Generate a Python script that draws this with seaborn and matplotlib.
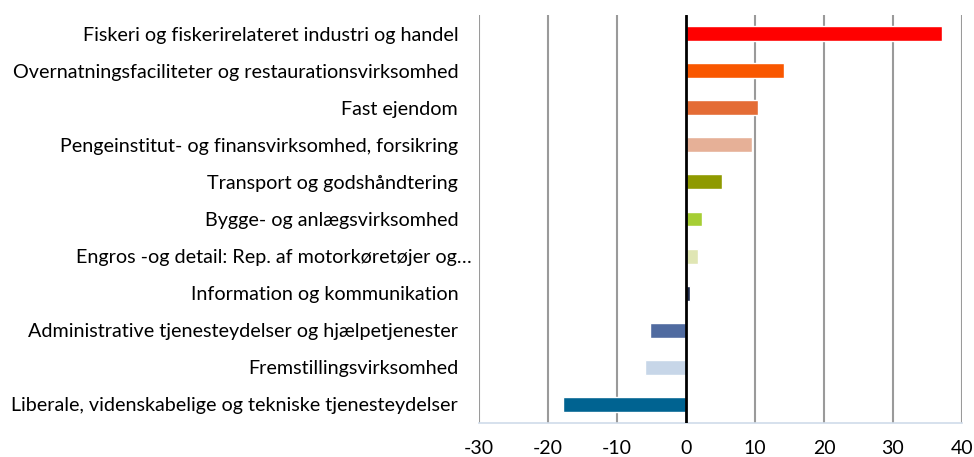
import matplotlib
matplotlib.use("Agg")
import matplotlib.pyplot as plt
import matplotlib.transforms as mtransforms
import seaborn as sns
import pandas as pd

categories = [
    "Fiskeri og fiskerirelateret industri og handel",
    "Overnatningsfaciliteter og restaurationsvirksomhed",
    "Fast ejendom",
    "Pengeinstitut- og finansvirksomhed, forsikring",
    "Transport og godshåndtering",
    "Bygge- og anlægsvirksomhed",
    "Engros -og detail: Rep. af motorkøretøjer og…",
    "Information og kommunikation",
    "Administrative tjenesteydelser og hjælpetjenester",
    "Fremstillingsvirksomhed",
    "Liberale, videnskabelige og tekniske tjenesteydelser",
]
values = [37.1, 14.2, 10.4, 9.6, 5.2, 2.3, 1.7, 0.6, -5.2, -5.9, -17.8]
colors = ["#FF0000", "#F95700", "#E46C35", "#E6B097", "#8F9A00", "#A6CE34",
          "#E0E6B4", "#1F2A4A", "#506BA0", "#C7D6E8", "#006391"]
xticks = [-30, -20, -10, 0, 10, 20, 30, 40]

sns.set_theme(style="white")
plt.rcParams["font.family"] = ["Lato", "DejaVu Sans"]

df = pd.DataFrame({"cat": categories, "val": values})

fig = plt.figure(figsize=(9.74, 4.57), dpi=100)
ax = fig.add_axes([479/974, 1 - 423/457, (962 - 479)/974, (423 - 15)/457])

sns.barplot(data=df, y="cat", x="val", hue="cat", palette=colors, dodge=False,
            legend=False, width=0.4, orient="h", ax=ax, saturation=1)

ax.set_xlim(-30, 40)
ax.set_ylim(10.5, -0.5)
ax.set_xticks(xticks)
ax.set_xticklabels([str(t) for t in xticks], fontsize=14, color="#000000")
ax.set_xlabel("")
ax.set_ylabel("")
ax.tick_params(axis="y", length=0, pad=15, labelsize=14.2, labelcolor="#000000")
ax.tick_params(axis="x", length=0, pad=12)

# Excel quirk: the truncated label sits a bit further right
for lbl in ax.get_yticklabels():
    if lbl.get_text().endswith("…"):
        lbl.set_transform(lbl.get_transform() +
                          mtransforms.ScaledTranslation(14/100, 0, fig.dpi_scale_trans))

for t in xticks:
    if t == 0:
        continue
    ax.axvline(t, color="#9A9A9A", linewidth=1.5, zorder=0)
ax.axvline(0, color="#000000", linewidth=2, zorder=3)

for side in ["top", "right", "left"]:
    ax.spines[side].set_visible(False)
ax.spines["bottom"].set_color("#D0DCEA")
ax.spines["bottom"].set_linewidth(1.2)

fig.savefig("out.png", dpi=100)
